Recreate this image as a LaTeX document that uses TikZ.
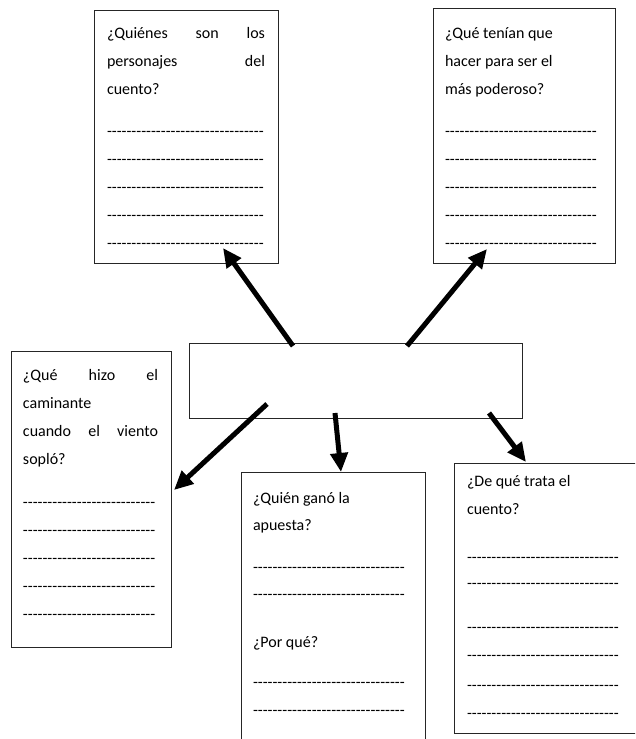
\documentclass[tikz,border=0pt]{standalone}
\usepackage{fontspec}
\setmainfont{Carlito}[Ligatures=TeXOff]
\usetikzlibrary{arrows.meta}
\begin{document}
\begin{tikzpicture}[x=1pt,y=-1pt,
  box/.style={draw=black!85,line width=0.9pt,inner sep=0pt,outer sep=0pt,rectangle},
  txt/.style={anchor=base west,inner sep=0pt,outer sep=0pt,font=\fontsize{16}{28}\selectfont},
  arr/.style={line width=5pt,-{Triangle[length=19pt,width=17pt]}}]
\clip (0,0) rectangle (635,739);
\fill[white] (0,0) rectangle (635,739);
% boxes
\node[box,minimum width=184pt,minimum height=253pt] (b1) at (186,136.5) {};
\node[box,minimum width=182pt,minimum height=255pt] (b2) at (524,135.5) {};
\node[box,minimum width=333pt,minimum height=75pt] (mid) at (355.5,380.5) {};
\node[box,minimum width=160pt,minimum height=296pt] (b3) at (91,499) {};
\node[box,minimum width=184pt,minimum height=290pt] (b4) at (333,617) {};
\node[box,minimum width=191pt,minimum height=270pt] (b5) at (549.5,598) {};
% box 1
\node[txt] (t1a) at (107,38) {\makebox[158pt][s]{¿Quiénes son los}};
\node[txt] (t1b) at (107,66) {\makebox[158pt][s]{personajes del}};
\node[txt] (t1c) at (107,94) {cuento?};
\foreach \y [count=\i] in {136,164,192,220,248}
  \node[txt] (d1\i) at (107,\y) {--------------------------------};
% box 2
\node[txt] (t2a) at (445,38) {¿Qué tenían que};
\node[txt] (t2b) at (445,66) {hacer para ser el};
\node[txt] (t2c) at (445,94) {más poderoso?};
\foreach \y [count=\i] in {136,164,192,220,248}
  \node[txt] (d2\i) at (445,\y) {-------------------------------};
% box 3
\node[txt] (t3a) at (23,380) {\makebox[135pt][s]{¿Qué hizo el}};
\node[txt] (t3b) at (23,408) {caminante};
\node[txt] (t3c) at (23,436) {\makebox[135pt][s]{cuando el viento}};
\node[txt] (t3d) at (23,464) {sopló?};
\foreach \y [count=\i] in {507,535,563,591,619}
  \node[txt] (d3\i) at (23,\y) {---------------------------};
% box 4
\node[txt] (t4a) at (253,503) {¿Quién ganó la};
\node[txt] (t4b) at (253,530) {apuesta?};
\node[txt] (t4c) at (253,647) {¿Por qué?};
\foreach \y [count=\i] in {572,599,687,715}
  \node[txt] (d4\i) at (253,\y) {-------------------------------};
% box 5
\node[txt] (t5a) at (467,486) {¿De qué trata el};
\node[txt] (t5b) at (467,514) {cuento?};
\foreach \y [count=\i] in {562,588,632,660,690,718}
  \node[txt] (d5\i) at (467,\y) {-------------------------------};
% arrow ends
\coordinate (s1) at (293,346); \coordinate (e1) at (223,248);
\coordinate (s2) at (407,346); \coordinate (e2) at (487,249);
\coordinate (s3) at (267,404); \coordinate (e3) at (174,490);
\coordinate (s4) at (335,413); \coordinate (e4) at (341,472);
\coordinate (s5) at (489,413); \coordinate (e5) at (526,462);
\draw[arr] (s1) -- (e1);
\draw[arr] (s2) -- (e2);
\draw[arr] (s3) -- (e3);
\draw[arr] (s4) -- (e4);
\draw[arr] (s5) -- (e5);
\end{tikzpicture}
\end{document}
